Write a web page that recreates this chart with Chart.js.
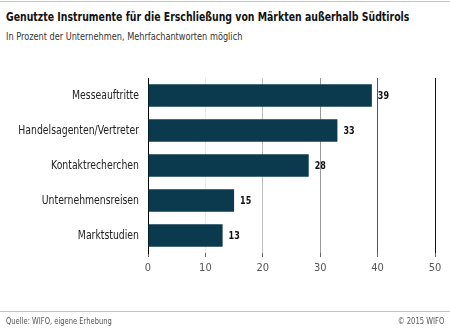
<!DOCTYPE html>
<html lang="de">
<head>
<meta charset="utf-8">
<script src="https://cdn.jsdelivr.net/npm/chart.js@4.4.1/dist/chart.umd.min.js"></script>
<style>
  html, body { margin: 0; padding: 0; background: #fff; }
  #wrap { position: relative; width: 450px; height: 331px; overflow: hidden;
          font-family: "DejaVu Sans Condensed", "DejaVu Sans", sans-serif; }
  #chart { position: absolute; left: 0; top: 0; }
  .rule { position: absolute; left: 0; width: 450px; height: 1px; background: #c4c4c4; }
  .txt { position: absolute; white-space: nowrap; transform-origin: 0 0; }
  #title { left: 6px; top: 9px; font-size: 13px; font-weight: bold; color: #111; transform: scaleX(0.8); }
  #subtitle { left: 6px; top: 31px; font-size: 10px; color: #333; transform: scaleX(0.91); }
  .foot { top: 315px; font-size: 9.5px; color: #555; }
  #source { left: 6px; transform: scaleX(0.79); }
  #copy { right: 6px; transform-origin: 100% 0; transform: scaleX(0.8); }
</style>
</head>
<body>
<div id="wrap">
  <div class="rule" style="top:1px"></div>
  <div id="title" class="txt">Genutzte Instrumente für die Erschließung von Märkten außerhalb Südtirols</div>
  <div id="subtitle" class="txt">In Prozent der Unternehmen, Mehrfachantworten möglich</div>
  <canvas id="chart" width="450" height="331"></canvas>
  <div class="rule" style="top:311px"></div>
  <div id="source" class="txt foot">Quelle: WIFO, eigene Erhebung</div>
  <div id="copy" class="txt foot">© 2015 WIFO</div>
</div>
<script>
// Instruments used to open up markets outside South Tyrol (share of firms, %)
const categories = ["Messeauftritte", "Handelsagenten/Vertreter", "Kontaktrecherchen", "Unternehmensreisen", "Marktstudien"];
const shares = [39, 33, 28, 15, 13];
const tickValues = [0, 10, 20, 30, 40, 50];

const FONT = '"DejaVu Sans Condensed", "DejaVu Sans", sans-serif';
const gridShade = { 0: 'rgba(0,0,0,0)', 10: '#e8e8e8', 20: '#bdbdbd', 30: '#9a9a9a', 40: '#555555', 50: '#111111' };

// Draws text squeezed horizontally to mimic a narrow typeface
function narrowText(ctx, text, x, y, sx) {
  ctx.save();
  ctx.translate(x, y);
  ctx.scale(sx, 1);
  ctx.fillText(text, 0, 0);
  ctx.restore();
}

// Category names right-aligned left of the axis, value labels past each bar
const labelsPlugin = {
  id: 'labelsPlugin',
  afterDatasetsDraw(chart) {
    const ctx = chart.ctx;
    const yScale = chart.scales.y;
    const meta = chart.getDatasetMeta(0);
    ctx.save();
    ctx.textBaseline = 'middle';

    ctx.font = '11.5px ' + FONT;
    ctx.fillStyle = '#222';
    ctx.textAlign = 'right';
    categories.forEach((name, i) => {
      narrowText(ctx, name, chart.chartArea.left - 9, yScale.getPixelForValue(i) + 1, 0.9);
    });

    ctx.font = 'bold 10.5px ' + FONT;
    ctx.fillStyle = '#111';
    ctx.textAlign = 'left';
    meta.data.forEach((bar, i) => {
      narrowText(ctx, String(shares[i]), bar.x + 6, bar.y + 1, 0.85);
    });
    ctx.restore();
  }
};

new Chart(document.getElementById('chart'), {
  type: 'bar',
  data: {
    labels: categories,
    datasets: [{
      data: shares,
      backgroundColor: '#0b3a4e',
      borderWidth: 0,
      barPercentage: 1,
      categoryPercentage: 0.64
    }]
  },
  options: {
    indexAxis: 'y',
    responsive: false,
    animation: false,
    events: [],
    layout: { padding: { top: 78, right: 15, bottom: 0, left: 0 } },
    plugins: { legend: { display: false }, tooltip: { enabled: false }, title: { display: false } },
    scales: {
      x: {
        type: 'linear',
        min: 0,
        max: 50,
        afterBuildTicks(scale) { scale.ticks = tickValues.map(v => ({ value: v })); },
        afterFit(scale) { scale.height = 331 - 253; },
        border: { display: false },
        grid: {
          drawOnChartArea: true,
          drawTicks: true,
          tickLength: 4,
          tickColor: '#666',
          color: c => gridShade[c.tick ? c.tick.value : 0] || '#bbb',
          lineWidth: 1
        },
        ticks: {
          padding: 5,
          color: '#555',
          font: { family: FONT, size: 11 },
          callback: v => String(v)
        }
      },
      y: {
        type: 'category',
        afterFit(scale) { scale.width = 148; },
        border: { display: true, color: '#000', width: 1 },
        grid: { display: false, drawTicks: false },
        ticks: { display: false }
      }
    }
  },
  plugins: [labelsPlugin]
});
</script>
</body>
</html>
